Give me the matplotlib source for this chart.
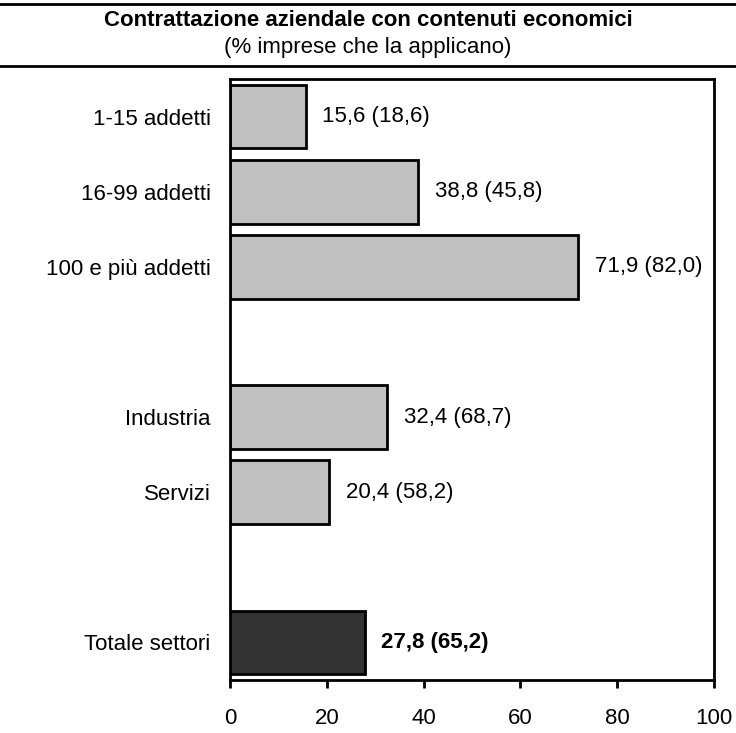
import numpy as np
import matplotlib
matplotlib.use('Agg')
import matplotlib.pyplot as plt
from matplotlib.lines import Line2D

plt.rcParams['font.family'] = ['Liberation Sans', 'DejaVu Sans']

categorie = ['1-15 addetti', '16-99 addetti', '100 e più addetti',
             'Industria', 'Servizi', 'Totale settori']
posizioni = [0, 1, 2, 4, 5, 7]
valori = [15.6, 38.8, 71.9, 32.4, 20.4, 27.8]
valori_tra_parentesi = [18.6, 45.8, 82.0, 68.7, 58.2, 65.2]
colori = ['#c0c0c0'] * 5 + ['#333333']

fs = 16

fig = plt.figure(figsize=(7.36, 7.33), dpi=100)
ax = fig.add_axes([230/736, 1 - 680/733, 484/736, 601/733])

ax.barh(posizioni, valori, height=0.85, color=colori, edgecolor='black', linewidth=2)

def fmt(v):
    return ('%.1f' % v).replace('.', ',')

for i, (p, v, w) in enumerate(zip(posizioni, valori, valori_tra_parentesi)):
    bold = (i == len(valori) - 1)
    ax.text(v + 3.5, p, '%s (%s)' % (fmt(v), fmt(w)), va='center', ha='left',
            fontsize=fs, fontweight='bold' if bold else 'normal')

ax.set_xlim(0, 100)
ax.set_ylim(7.5, -0.5)
ax.set_yticks(posizioni)
ax.set_yticklabels(categorie, fontsize=fs)
ax.tick_params(axis='y', length=0, pad=14)
ax.set_xticks([0, 20, 40, 60, 80, 100])
ax.tick_params(axis='x', direction='out', length=6, width=2, labelsize=fs, pad=14)
for s in ax.spines.values():
    s.set_linewidth(2)

fig.text(0.5, 1 - 21/733, 'Contrattazione aziendale con contenuti economici',
         ha='center', va='center', fontsize=fs, fontweight='bold')
fig.text(0.5, 1 - 47/733, '(% imprese che la applicano)',
         ha='center', va='center', fontsize=fs)
fig.add_artist(Line2D([0, 1], [1 - 4/733, 1 - 4/733], color='black', linewidth=2,
                      transform=fig.transFigure))
fig.add_artist(Line2D([0, 1], [1 - 66/733, 1 - 66/733], color='black', linewidth=2,
                      transform=fig.transFigure))

fig.savefig('out.png', dpi=100)
